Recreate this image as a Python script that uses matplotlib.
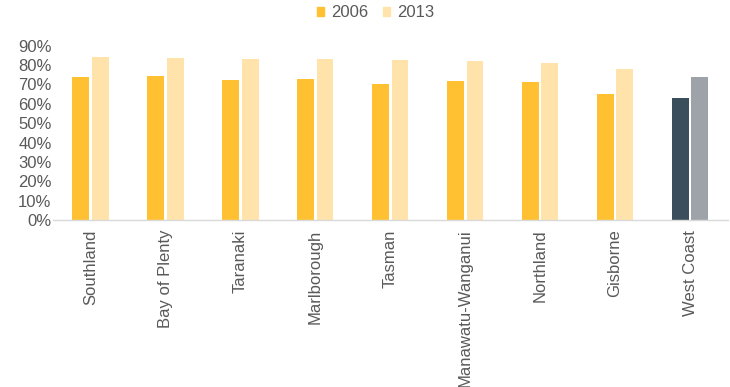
import numpy as np
import matplotlib
matplotlib.use("Agg")
import matplotlib.pyplot as plt
from matplotlib.patches import Patch
from matplotlib.ticker import PercentFormatter

plt.rcParams["font.family"] = ["Liberation Sans", "DejaVu Sans"]

regions = ["Southland", "Bay of Plenty", "Taranaki", "Marlborough", "Tasman",
           "Manawatu-Wanganui", "Northland", "Gisborne", "West Coast"]
share_2006 = [0.738, 0.741, 0.725, 0.729, 0.702, 0.719, 0.713, 0.650, 0.630]
share_2013 = [0.844, 0.837, 0.832, 0.830, 0.827, 0.820, 0.810, 0.780, 0.740]
highlight = "West Coast"

c06, c13 = "#FFC132", "#FFE3AA"
h06, h13 = "#3A4F5B", "#9EA2A9"
text_col = "#595959"

fig = plt.figure(figsize=(7.3, 3.87), dpi=100)
ax = fig.add_axes([0.0726, 0.4315, 0.924, 0.4505])

x = np.arange(len(regions))
w = 0.225
cols06 = [h06 if r == highlight else c06 for r in regions]
cols13 = [h13 if r == highlight else c13 for r in regions]
ax.bar(x - 0.13, share_2006, width=w, color=cols06)
ax.bar(x + 0.13, share_2013, width=w, color=cols13)

ax.set_xlim(-0.5, len(regions) - 0.5)
ax.set_ylim(0, 0.9)
ax.set_yticks(np.arange(0, 0.91, 0.1))
ax.yaxis.set_major_formatter(PercentFormatter(1.0, decimals=0))
ax.set_xticks(x)
ax.set_xticklabels(regions, rotation=90)
ax.tick_params(axis="both", length=0, labelsize=12, colors=text_col)
ax.tick_params(axis="x", pad=7)
ax.tick_params(axis="y", pad=1)

for side in ["top", "right", "left"]:
    ax.spines[side].set_visible(False)
ax.spines["bottom"].set_color("#D9D9D9")
ax.spines["bottom"].set_linewidth(1.0)

handles = [Patch(color=c06, label="2006"), Patch(color=c13, label="2013")]
fig.legend(handles=handles, loc="upper center", bbox_to_anchor=(0.515, 1.025),
           ncol=2, frameon=False, fontsize=12, handlelength=0.4,
           handleheight=0.4, handletextpad=0.45, columnspacing=0.9,
           labelcolor=text_col)

fig.savefig("out.png", dpi=100)
